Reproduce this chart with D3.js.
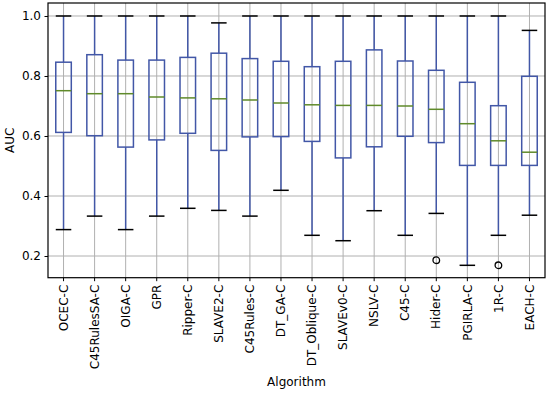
<!DOCTYPE html>
<html><head><meta charset="utf-8">
<script src="https://cdn.jsdelivr.net/npm/d3@7"></script>
<style>body{margin:0;background:#fff}svg{display:block}</style>
</head><body>
<svg id="c" width="550" height="393"></svg>
<script>
const categories = ["OCEC-C","C45RulesSA-C","OIGA-C","GPR","Ripper-C","SLAVE2-C","C45Rules-C","DT_GA-C","DT_Oblique-C","SLAVEv0-C","NSLV-C","C45-C","Hider-C","PGIRLA-C","1R-C","EACH-C"];
const whiskerLow  = [0.288,0.333,0.288,0.333,0.359,0.352,0.333,0.419,0.269,0.251,0.351,0.269,0.342,0.169,0.269,0.336];
const q1          = [0.612,0.601,0.563,0.587,0.609,0.552,0.597,0.598,0.582,0.527,0.564,0.599,0.578,0.502,0.502,0.502];
const medians     = [0.751,0.741,0.741,0.730,0.727,0.724,0.720,0.710,0.704,0.702,0.702,0.700,0.689,0.641,0.584,0.546];
const q3          = [0.846,0.871,0.853,0.853,0.862,0.876,0.858,0.849,0.831,0.849,0.887,0.850,0.819,0.779,0.701,0.799];
const whiskerHigh = [1.0,1.0,1.0,1.0,1.0,0.977,1.0,1.0,1.0,1.0,1.0,1.0,1.0,1.0,1.0,0.952];
const outliers    = [[],[],[],[],[],[],[],[],[],[],[],[],[0.186],[],[0.169],[]];
const yTicks = [0.2,0.4,0.6,0.8,1.0];

const svg = d3.select("#c");
const L=48, R=545, T=3, B=277.7;
const x = d3.scaleBand().domain(categories).range([L,R]);
const y = d3.scaleLinear().domain([0.1277,1.0433]).range([B,T]);
const boxW = x.bandwidth()*0.5;
const boxColor = "#4257a7", medColor = "#5f8a2a";

// grid
const g = svg.append("g");
g.selectAll(".gx").data(categories).join("line")
  .attr("x1",d=>x(d)+x.bandwidth()/2).attr("x2",d=>x(d)+x.bandwidth()/2)
  .attr("y1",T).attr("y2",B).attr("stroke","#b0b0b0").attr("stroke-width",1);
g.selectAll(".gy").data(yTicks).join("line")
  .attr("x1",L).attr("x2",R).attr("y1",d=>y(d)).attr("y2",d=>y(d))
  .attr("stroke","#b0b0b0").attr("stroke-width",1);

const data = categories.map((c,i)=>({c,lo:whiskerLow[i],q1:q1[i],m:medians[i],q3:q3[i],hi:whiskerHigh[i],out:outliers[i]}));
const bx = svg.append("g").selectAll("g").data(data).join("g")
  .attr("transform",d=>`translate(${x(d.c)+x.bandwidth()/2},0)`);
// whiskers
bx.append("line").attr("y1",d=>y(d.q3)).attr("y2",d=>y(d.hi)).attr("stroke",boxColor).attr("stroke-width",1.5);
bx.append("line").attr("y1",d=>y(d.q1)).attr("y2",d=>y(d.lo)).attr("stroke",boxColor).attr("stroke-width",1.5);
// caps
bx.append("line").attr("x1",-boxW/2).attr("x2",boxW/2).attr("y1",d=>y(d.hi)).attr("y2",d=>y(d.hi)).attr("stroke","#000").attr("stroke-width",1.5);
bx.append("line").attr("x1",-boxW/2).attr("x2",boxW/2).attr("y1",d=>y(d.lo)).attr("y2",d=>y(d.lo)).attr("stroke","#000").attr("stroke-width",1.5);
// box
bx.append("rect").attr("x",-boxW/2).attr("width",boxW).attr("y",d=>y(d.q3)).attr("height",d=>y(d.q1)-y(d.q3))
  .attr("fill","none").attr("stroke",boxColor).attr("stroke-width",1.5);
// median
bx.append("line").attr("x1",-boxW/2).attr("x2",boxW/2).attr("y1",d=>y(d.m)).attr("y2",d=>y(d.m)).attr("stroke",medColor).attr("stroke-width",1.5);
// outliers
bx.selectAll("circle").data(d=>d.out).join("circle").attr("cx",0).attr("cy",d=>y(d)).attr("r",3.3)
  .attr("fill","none").attr("stroke","#000").attr("stroke-width",1.3);

// axes
const font = "DejaVu Sans";
const ya = svg.append("g").attr("transform",`translate(${L},0)`).call(d3.axisLeft(y).tickValues(yTicks).tickFormat(d3.format(".1f")).tickSize(3.5).tickPadding(3.5));
ya.select(".domain").remove();
ya.selectAll("text").attr("font-family",font).attr("font-size",12).attr("fill","#000");
ya.selectAll("line").attr("stroke","#000");
const xa = svg.append("g").attr("transform",`translate(0,${B})`).call(d3.axisBottom(x).tickSize(3.5).tickPadding(3.5));
xa.select(".domain").remove();
xa.selectAll("line").attr("stroke","#000");
xa.selectAll("text").attr("font-family",font).attr("font-size",12).attr("fill","#000")
  .attr("transform","rotate(-90)").attr("text-anchor","end").attr("dy","0.35em").attr("x",-7).attr("y",0);

svg.append("rect").attr("x",L).attr("y",T).attr("width",R-L).attr("height",B-T).attr("fill","none").attr("stroke","#000").attr("stroke-width",1.2);

svg.append("text").attr("transform",`translate(14,${(T+B)/2}) rotate(-90)`).attr("text-anchor","middle")
  .attr("font-family",font).attr("font-size",12).text("AUC");
svg.append("text").attr("x",(L+R)/2).attr("y",386).attr("text-anchor","middle")
  .attr("font-family",font).attr("font-size",12).text("Algorithm");
</script>
</body></html>
